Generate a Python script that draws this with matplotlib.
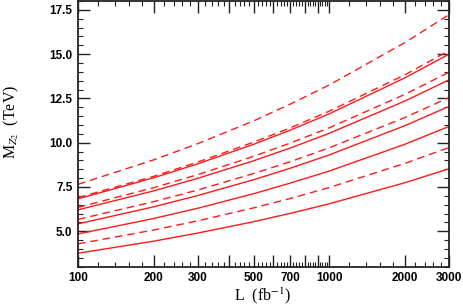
"""Z2 mass reach versus integrated luminosity."""

import matplotlib
matplotlib.use("Agg")
import matplotlib.pyplot as plt
from matplotlib.ticker import FixedLocator, FixedFormatter, NullFormatter

lumi = [100, 200, 300, 500, 700, 1000, 2000, 3000]

# mass reach in TeV
dashed_a = [7.65, 9.03, 9.95, 11.23, 12.18, 13.26, 15.65, 17.23]
dashed_b = [6.90, 8.10, 8.91, 10.03, 10.84, 11.78, 13.83, 15.20]
solid_c = [6.83, 8.02, 8.81, 9.91, 10.71, 11.63, 13.66, 15.00]
dashed_d = [6.35, 7.46, 8.20, 9.23, 9.98, 10.84, 12.73, 13.98]
solid_e = [6.21, 7.28, 7.99, 8.98, 9.70, 10.53, 12.35, 13.55]
dashed_f = [5.67, 6.67, 7.33, 8.26, 8.93, 9.71, 11.42, 12.55]
solid_g = [5.42, 6.38, 7.02, 7.91, 8.56, 9.31, 10.96, 12.05]
solid_h = [4.85, 5.72, 6.30, 7.12, 7.72, 8.40, 9.91, 10.92]
dashed_i = [4.29, 5.07, 5.59, 6.32, 6.85, 7.47, 8.83, 9.73]
solid_j = [3.76, 4.44, 4.90, 5.54, 6.01, 6.55, 7.74, 8.53]

solid_curves = [solid_c, solid_e, solid_g, solid_h, solid_j]
dashed_curves = [dashed_a, dashed_b, dashed_d, dashed_f, dashed_i]

x_major = [100, 200, 300, 400, 500, 600, 700, 800, 900, 1000, 2000, 3000]
x_minor = [v for v in range(120, 1000, 20) if v % 100] + [1200, 1400, 1600, 1800, 2200, 2400, 2600, 2800]
x_labels = ["100", "200", "300", "", "500", "", "700", "", "", "1000", "2000", "3000"]
y_major = [5.0, 7.5, 10.0, 12.5, 15.0, 17.5]
y_labels = ["5.0", "7.5", "10.0", "12.5", "15.0", "17.5"]

RED = "#ff1a1a"
TICK_FONT = dict(fontfamily="Liberation Sans", fontweight="bold", fontsize=8.5)
LABEL_FONT = dict(fontfamily="Liberation Serif", fontsize=11.5)

plt.rcParams["mathtext.fontset"] = "stix"

fig = plt.figure(figsize=(4.63, 3.05), dpi=100)
ax = fig.add_axes([0.1685, 0.1256, 0.8013, 0.871])

for ys in solid_curves:
    ax.plot(lumi, ys, color=RED, lw=1.0, solid_capstyle="butt")
for ys in dashed_curves:
    ax.plot(lumi, ys, color=RED, lw=1.0, dashes=(5.5, 3.5))

ax.set_xscale("log")
ax.set_xlim(100, 3000)
ax.set_ylim(3.0, 18.0)

ax.xaxis.set_major_locator(FixedLocator(x_major))
ax.xaxis.set_major_formatter(FixedFormatter(x_labels))
ax.xaxis.set_minor_locator(FixedLocator(x_minor))
ax.xaxis.set_minor_formatter(NullFormatter())
ax.yaxis.set_major_locator(FixedLocator(y_major))
ax.yaxis.set_major_formatter(FixedFormatter(y_labels))
ax.yaxis.set_minor_locator(FixedLocator([3.0 + 0.5 * i for i in range(31)]))

ax.tick_params(which="both", direction="in", top=True, right=True, color="#222222")
ax.tick_params(which="major", length=8.5, width=1.0)
ax.tick_params(which="minor", length=3.5, width=0.8)
ax.tick_params(axis="both", pad=4)
for lab in ax.get_xticklabels() + ax.get_yticklabels():
    lab.set(**TICK_FONT)

for sp in ax.spines.values():
    sp.set_linewidth(1.3)
    sp.set_color("#222222")

# axis titles placed by hand, as in the original figure
fig.text(0.568, 0.03, r"L  (fb$^{-1}$)", ha="center", va="center", **LABEL_FONT)
fig.text(0.024, 0.60, r"M$_{Z_2}$  (TeV)", ha="center", va="center", rotation=90, **LABEL_FONT)

fig.savefig("out.png", dpi=100)
